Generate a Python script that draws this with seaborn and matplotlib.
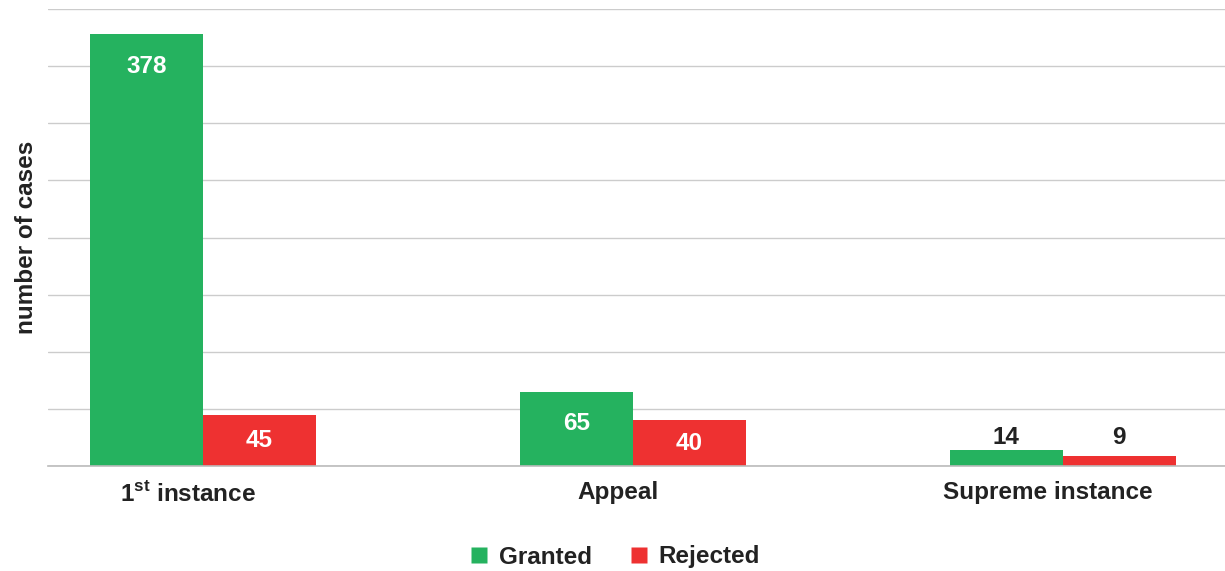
import numpy as np
import pandas as pd
import matplotlib
matplotlib.use("Agg")
import matplotlib.pyplot as plt
import matplotlib.transforms as mtransforms
from matplotlib.lines import Line2D
import seaborn as sns

# data
STAGES = ["1st instance", "Appeal", "Supreme instance"]
STAGE_LABELS = ["1$^{\\mathrm{st}}$ instance", "Appeal", "Supreme instance"]
GRANTED = [378, 65, 14]
REJECTED = [45, 40, 9]
SERIES = ["Granted", "Rejected"]
COLORS = {"Granted": "#25B25F", "Rejected": "#EE3131"}

df = pd.DataFrame({
    "stage": STAGES * 2,
    "outcome": ["Granted"] * 3 + ["Rejected"] * 3,
    "cases": GRANTED + REJECTED,
})

sns.set_theme(style="white")
plt.rcParams["font.family"] = ["Liberation Sans", "DejaVu Sans"]
plt.rcParams["font.weight"] = "bold"
plt.rcParams["mathtext.fontset"] = "custom"
plt.rcParams["mathtext.rm"] = "Liberation Sans:bold"
plt.rcParams["mathtext.bf"] = "Liberation Sans:bold"

TEXT = "#222222"
FS = 17.5

fig = plt.figure(figsize=(12.25, 5.71), dpi=100)
ax = fig.add_axes([48 / 1225, 1 - 466 / 571, 1 - 48 / 1225, (466 - 9) / 571])

sns.barplot(data=df, x="stage", y="cases", hue="outcome", hue_order=SERIES,
            palette=COLORS, width=0.525, gap=0, saturation=1,
            edgecolor="none", linewidth=0, legend=False, ax=ax)

ax.set_ylim(0, 400)
ax.set_xlim(-0.36, 2.377)
ax.set_yticks(np.arange(0, 401, 50))
ax.set_yticklabels([])
ax.tick_params(axis="y", length=0)
ax.tick_params(axis="x", length=0, pad=11)
ax.yaxis.grid(True, color="#cccccc", lw=1)
ax.set_axisbelow(True)
for s in ["top", "right", "left"]:
    ax.spines[s].set_visible(False)
ax.spines["bottom"].set_color("#bbbbbb")
ax.spines["bottom"].set_linewidth(1.2)

ax.set_xticks(range(len(STAGES)))
ax.set_xticklabels(STAGE_LABELS, fontsize=FS, fontweight="bold", color=TEXT)
shift = mtransforms.ScaledTranslation(-15 / 100, 0, fig.dpi_scale_trans)
for lab in ax.get_xticklabels():
    lab.set_transform(lab.get_transform() + shift)
ax.set_xlabel("")
ax.set_ylabel("number of cases", fontsize=FS, fontweight="bold", color=TEXT,
              labelpad=4)

# value labels: inside for tall bars, above for short ones
for cont in ax.containers:
    for bar in cont:
        v = bar.get_height()
        x = bar.get_x() + bar.get_width() / 2
        if v >= 20:
            y = v - min(v / 2, 28)
            ax.annotate(f"{v:.0f}", (x, y), xytext=(0, 0), textcoords="offset points",
                        ha="center", va="center", fontsize=FS, fontweight="bold",
                        color="white")
        else:
            ax.annotate(f"{v:.0f}", (x, 14), xytext=(0, 9), textcoords="offset points",
                        ha="center", va="center", fontsize=FS, fontweight="bold",
                        color=TEXT)

handles = [Line2D([], [], marker="s", ls="none", markersize=12,
                  markerfacecolor=COLORS[s], markeredgecolor="none") for s in SERIES]
fig.legend(handles, SERIES, loc="center", bbox_to_anchor=(0.502, 1 - 557 / 571),
           ncol=2, frameon=False, handlelength=0.8, handletextpad=0.4,
           columnspacing=1.55, prop={"size": FS, "weight": "bold"}, labelcolor=TEXT)

fig.savefig("out.png", dpi=100)
